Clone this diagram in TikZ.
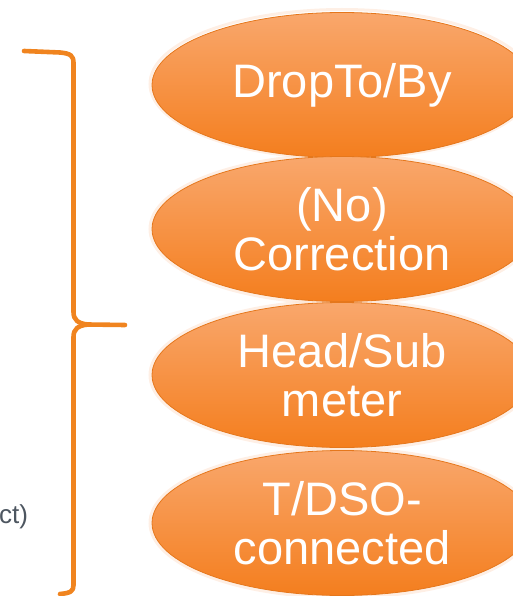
\documentclass[tikz,border=0pt]{standalone}
\usepackage{fontspec}
\setmainfont{Liberation Sans}
\usetikzlibrary{shapes.geometric}
\definecolor{ovaltop}{HTML}{F9A76C}
\definecolor{ovalbot}{HTML}{F47E1E}
\definecolor{ovalrim}{HTML}{E5771C}
\definecolor{braceor}{HTML}{F0841F}
\definecolor{greytxt}{HTML}{4D5660}
\tikzset{oval/.style = {ellipse, minimum width = 380pt, minimum height = 145pt, inner sep = 0,
                        top color = ovaltop, bottom color = ovalbot, draw = ovalrim, line width = 0.8pt,
                        text = white, align = center, font = \fontsize{47}{49}\selectfont}}
\tikzset{halo/.style = {ellipse, minimum width = 384pt, minimum height = 149pt, inner sep = 0,
                        draw = ovaltop!35, line width = 3pt, opacity = 0.5}}
\tikzset{bracket/.style = {draw = braceor, line width = 4.6pt, line cap = round, line join = round}}

\begin{document}
\begin{tikzpicture}[x = 1pt, y = -1pt]
    \useasboundingbox (0, 0) rectangle (512, 596);
    % soft rims behind the ovals
    \node [halo] at (342, 84) {};
    \node [halo] at (342, 229) {};
    \node [halo] at (342, 375) {};
    \node [halo] at (342, 523) {};
    \node [oval] (dropto) at (342, 85) {DropTo/By};
    \node [oval] (correction) at (342, 229) {(No)\\Correction};
    \node [oval] (submeter) at (342, 375) {Head/Sub\\meter};
    \node [oval] (tdso) at (342, 523) {T/DSO-\\connected};
    % curly bracket on the left
    \draw [bracket] (24, 51) -- (60, 52.5) .. controls (71, 53.5) and (73.5, 56) .. (73.5, 63)
        -- (73.5, 312) .. controls (73.5, 320) and (78, 323.5) .. (88, 324.5) -- (125, 325);
    \draw [bracket] (88, 324.5) .. controls (78, 325.5) and (73.5, 329) .. (73.5, 337)
        -- (73.5, 585) .. controls (73.5, 591) and (71, 593) .. (60, 594);
    \node [anchor = base west, text = greytxt, font = \fontsize{26}{30}\selectfont, inner sep = 0] (cut) at (-1, 523) {ct)};
\end{tikzpicture}
\end{document}
